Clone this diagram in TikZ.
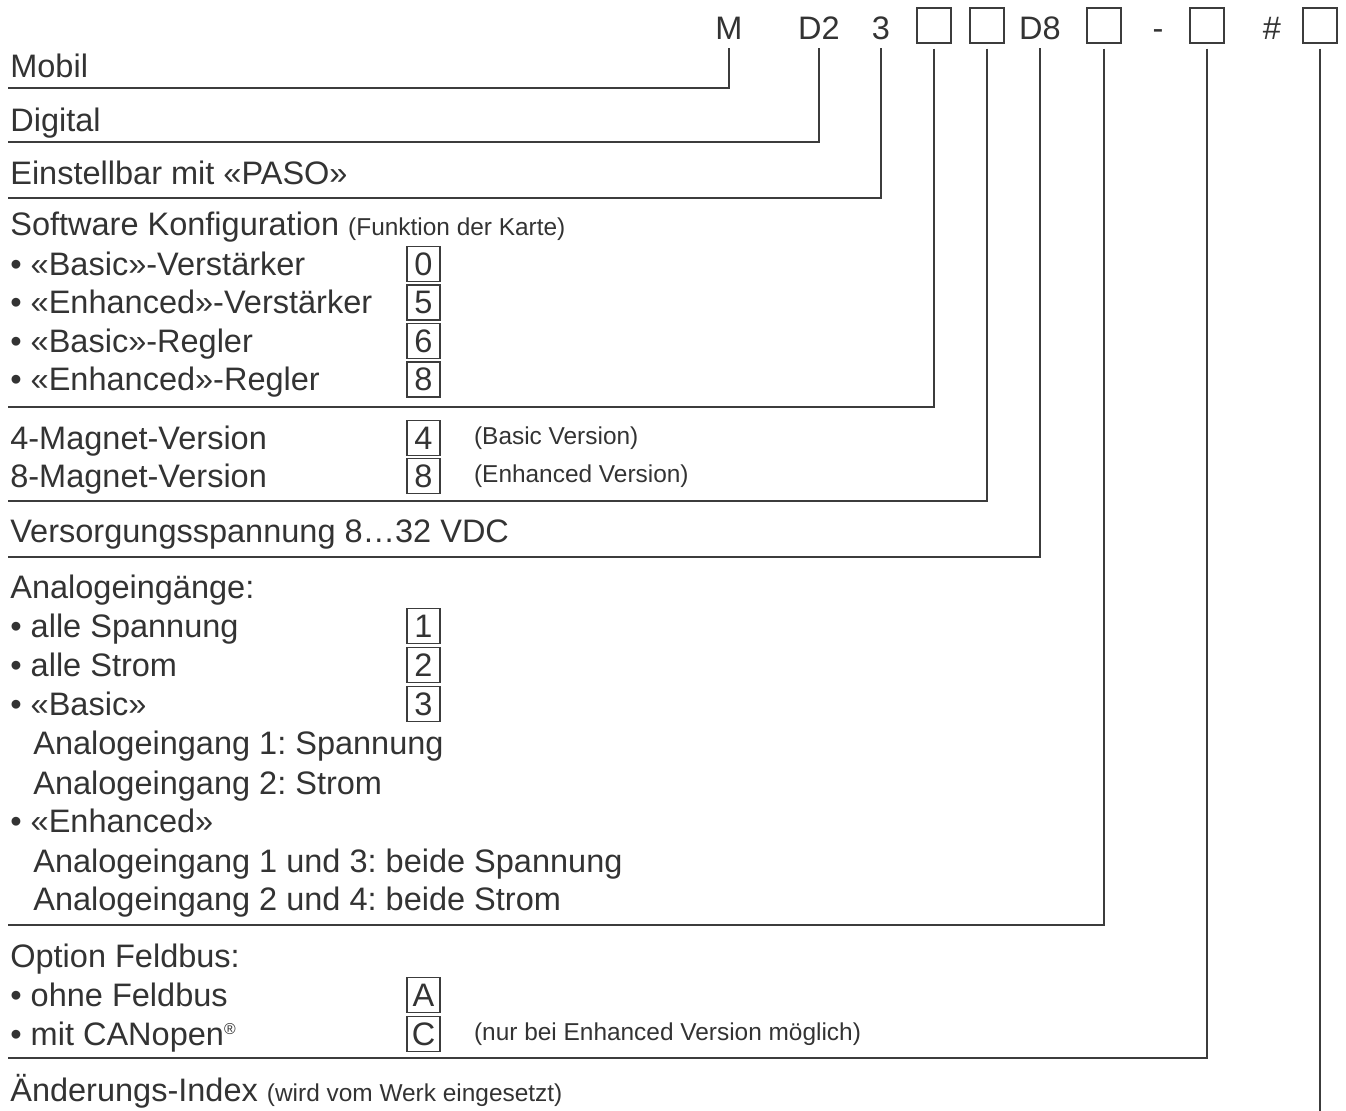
\documentclass[tikz,border=0pt]{standalone}
\usepackage{fontspec}
\setmainfont{Liberation Sans}
\usepackage{tikz}
\usetikzlibrary{positioning}
\frenchspacing

\definecolor{ink}{HTML}{333333}
\definecolor{rulegray}{HTML}{3C3C3C}
\newcommand{\bigtxt}{\fontsize{18.5}{22}\selectfont}
\newcommand{\smalltxt}{\fontsize{13.9}{16}\selectfont}

\tikzset{
  lbl/.style={anchor=base west, inner sep=0pt, font=\bigtxt, text=ink},
  note/.style={inner sep=0pt, font=\smalltxt, text=ink},
  code/.style={minimum width=0.68cm, minimum height=0.7cm, inner sep=0pt, text height=0.58cm, text depth=0pt, font=\bigtxt, text=ink},
  codebox/.style={code, draw=rulegray, line width=0.85pt},
  pick/.style={draw=rulegray, line width=0.85pt, minimum width=0.66cm, minimum height=0.7cm, inner sep=0pt, font=\bigtxt, text=ink},
  rule/.style={draw=rulegray, line width=1.1pt, shorten <=0.1cm},
}

\begin{document}
\begin{tikzpicture}[x=0.02cm, y=-0.02cm]
\useasboundingbox (0,0) rectangle (1346,1111);

% type code
\node[code] (cM) at (729,25.5) {M};
\node[code] (cD2) at (819,25.5) {D2};
\node[code] (c3) at (881,25.5) {3};
\node[codebox] (cK) at (934,25.5) {};
\node[codebox] (cV) at (987,25.5) {};
\node[code] (cD8) at (1040,25.5) {D8};
\node[codebox] (cA) at (1104,25.5) {};
\node[code] (cDash) at (1158,25.5) {-};
\node[codebox] (cF) at (1207,25.5) {};
\node[code] (cHash) at (1272,25.5) {\#};
\node[codebox] (cI) at (1320,25.5) {};

% fixed parts
\node[lbl] (mobil) at (10,78) {Mobil};
\coordinate (eM) at (8,88);
\draw[rule] (cM.south) |- (eM);

\node[lbl] (digital) at (10,132) {Digital};
\coordinate (eD2) at (8,142);
\draw[rule] (cD2.south) |- (eD2);

\node[lbl] (paso) at (10,184.5) {Einstellbar mit «PASO»};
\coordinate (e3) at (8,198);
\draw[rule] (c3.south) |- (e3);

% software
\node[lbl] (soft) at (10,236) {Software Konfiguration {\smalltxt (Funktion der Karte)}};
\node[lbl] (sbv) at (10,275.5) {• «Basic»-Verstärker};
\node[pick] (b0) at (423.5,264) {0};
\node[lbl] (sev) at (10,314) {• «Enhanced»-Verstärker};
\node[pick] (b5) at (423.5,302.5) {5};
\node[lbl] (sbr) at (10,352.5) {• «Basic»-Regler};
\node[pick] (b6) at (423.5,341) {6};
\node[lbl] (ser) at (10,391) {• «Enhanced»-Regler};
\node[pick] (b8) at (423.5,379.5) {8};
\coordinate (eK) at (8,407);
\draw[rule] (cK.south) |- (eK);

% magnets
\node[lbl] (mag4) at (10,449.5) {4-Magnet-Version};
\node[pick] (b4) at (423.5,438) {4};
\node[note, anchor=west, right=0.66cm of b4] (n4) {(Basic Version)};
\node[lbl] (mag8) at (10,487.5) {8-Magnet-Version};
\node[pick] (bm8) at (423.5,476) {8};
\node[note, anchor=west, right=0.66cm of bm8] (nm8) {(Enhanced Version)};
\coordinate (eV) at (8,501);
\draw[rule] (cV.south) |- (eV);

\node[lbl] (vdc) at (10,542) {Versorgungsspannung 8…32 VDC};
\coordinate (eD8) at (8,557);
\draw[rule] (cD8.south) |- (eD8);

% analog inputs
\node[lbl] (ana) at (10,598) {Analogeingänge:};
\node[lbl] (aspg) at (10,637.5) {• alle Spannung};
\node[pick] (b1) at (423.5,626) {1};
\node[lbl] (astr) at (10,676.5) {• alle Strom};
\node[pick] (b2) at (423.5,665) {2};
\node[lbl] (abas) at (10,715.5) {• «Basic»};
\node[pick] (b3) at (423.5,704) {3};
\node[lbl] (abas1) at (33,754.5) {Analogeingang 1: Spannung};
\node[lbl] (abas2) at (33,794) {Analogeingang 2: Strom};
\node[lbl] (aenh) at (10,832.5) {• «Enhanced»};
\node[lbl] (aenh1) at (33,872) {Analogeingang 1 und 3: beide Spannung};
\node[lbl] (aenh2) at (33,910) {Analogeingang 2 und 4: beide Strom};
\coordinate (eA) at (8,925);
\draw[rule] (cA.south) |- (eA);

% fieldbus
\node[lbl] (bus) at (10,967) {Option Feldbus:};
\node[lbl] (busA) at (10,1006.5) {• ohne Feldbus};
\node[pick] (bA) at (423.5,995) {A};
\node[lbl] (busC) at (10,1045.5) {• mit CANopen\raisebox{0.35em}{\fontsize{9}{10}\selectfont ®}};
\node[pick] (bC) at (423.5,1034) {C};
\node[note, anchor=west, right=0.66cm of bC] (nC) {(nur bei Enhanced Version möglich)};
\coordinate (eF) at (8,1058);
\draw[rule] (cF.south) |- (eF);

\node[lbl] (idx) at (10,1101) {Änderungs-Index {\smalltxt (wird vom Werk eingesetzt)}};
\coordinate (eI) at (1320,1111);
\draw[rule] (cI.south) -- (eI);
\end{tikzpicture}
\end{document}
